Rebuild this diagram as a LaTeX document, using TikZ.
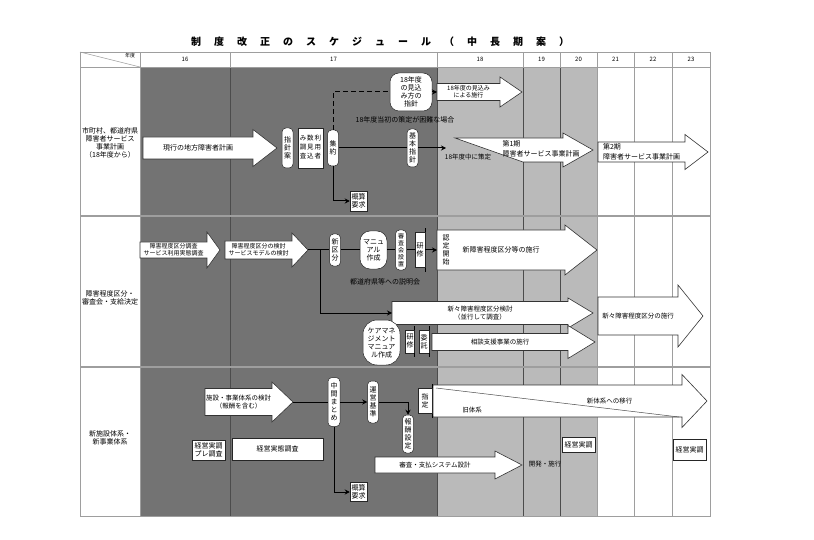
\documentclass[tikz,border=0pt]{standalone}
\usepackage{fontspec}
\setmainfont{Noto Sans CJK JP}
\usetikzlibrary{arrows.meta}

\definecolor{darkbg}{gray}{0.45}
\definecolor{lightbg}{gray}{0.73}
\definecolor{rulegray}{gray}{0.62}

\newcommand{\widespace}{\spaceskip=13pt plus 0pt minus 0pt\relax}

% block arrow: [text options]{name}{tail x}{tip x}{y}{body half}{head half}{head length}{text}
\newcommand{\blockarrow}[9][]{%
  \draw[blockarrow] (#3,#5-#6) -- ({#4-#8},#5-#6) -- ({#4-#8},#5-#7) -- (#4,#5)
    -- ({#4-#8},#5+#7) -- ({#4-#8},#5+#6) -- (#3,#5+#6) -- cycle;
  \coordinate (#2-tail) at (#3,#5);
  \coordinate (#2-tip) at (#4,#5);
  \node[arrowtext,#1] (#2) at ({(#3+#4-#8)/2},#5) {#9};}

\begin{document}
\begin{tikzpicture}[x=1pt, y=-1pt,
    font=\fontsize{7}{8}\selectfont,
    base/.style={draw=black!85, fill=white, line width=0.5pt, inner sep=0.5pt, align=center},
    vbox/.style={base, rounded corners=4pt, minimum width=11pt},
    sqbox/.style={base},
    roundbox/.style={base, rounded corners=9pt},
    tickline/.style={draw=black, line width=0.6pt},
    tickbox/.style={base, append after command={(\tikzlastnode.north east) edge[tickline] ([yshift=4pt]\tikzlastnode.north east)
        (\tikzlastnode.south east) edge[tickline] ([yshift=-4pt]\tikzlastnode.south east)}},
    note/.style={inner sep=0pt, align=center},
    arrowtext/.style={inner sep=0pt, align=center, font=\fontsize{6.5}{7.5}\selectfont},
    blockarrow/.style={draw=black!80, fill=white, line width=0.6pt},
    conn/.style={draw=black, line width=1pt},
    arrowline/.style={conn, -{Stealth[length=5pt, width=5pt]}},
    dasharrow/.style={arrowline, dash pattern=on 5pt off 3pt},
    rowline/.style={draw=rulegray, line width=1.4pt},
    colline/.style={draw=black!70, line width=0.6pt},
    thinline/.style={draw=rulegray, line width=0.5pt},
    cell/.style={draw=rulegray, line width=0.5pt}
]
\useasboundingbox (0,0) rectangle (814,540);

% title
\node[font=\fontsize{10}{12}\selectfont\bfseries] (title) at (380,42)
    {\widespace 制 度 改 正 の ス ケ ジ ュ ー ル （ 中 長 期 案 ）};

% table background
\fill[darkbg] (140,67) rectangle (437,516);
\fill[lightbg] (437,67) rectangle (597,516);
\foreach \xv in {140,597,634,672} \draw[thinline] (\xv,67) -- (\xv,516);
\foreach \xv in {230,437,523,560} \draw[colline] (\xv,67) -- (\xv,516);
\foreach \yh in {216,367} \draw[rowline] (80,\yh) -- (710,\yh);
\draw[cell] (80,52) rectangle (710,516);

% header
\draw[cell] (80,52) rectangle (140,67);
\draw[cell] (80,52) -- (140,67);
\node[font=\fontsize{5}{6}\selectfont] (nendo) at (130,56) {年度};
\foreach \xa/\xb/\yr in {140/230/16, 230/437/17, 437/523/18, 523/560/19, 560/597/20, 597/634/21, 634/672/22, 672/710/23} {
  \draw[cell] (\xa,52) rectangle (\xb,67);
  \node[font=\fontsize{6}{7}\selectfont] (y\yr) at ({(\xa+\xb)/2},59.5) {\yr};
}

% row 1
\node[note] (row1) at (110,143) {市町村、都道府県\\障害者サービス\\事業計画\\（18年度から）};
\blockarrow[font=\fontsize{7}{8}\selectfont]{genkou}{143}{277}{148}{11}{18.5}{24}{現行の地方障害者計画}
\node[vbox, minimum height=40pt] (shishinan) at (287.5,148) {指\\針\\案};
\node[sqbox, minimum width=25pt, minimum height=40pt, font=\fontsize{6.5}{9}\selectfont] (mikomichousa) at (310.5,148)
    {\begin{tabular}{@{}c@{\hspace{1pt}}c@{\hspace{1pt}}c@{}}み&数&利\\調&見&用\\査&込&者\end{tabular}};
\node[vbox, minimum height=36pt] (shuyaku) at (333,148) {集\\約};
\node[vbox, minimum height=38pt] (kihon) at (412.5,148) {基\\本\\指\\針};
\node[roundbox, minimum width=42pt, minimum height=38pt] (mikomihou) at (411,92) {18年度\\の見込\\み方の\\指針};
\node[sqbox, minimum width=17pt, minimum height=20pt] (gaisan1) at (358.5,201) {概算\\要求};
\node[note] (konnan) at (405,120) {18年度当初の策定が困難な場合};
\blockarrow[font=\fontsize{6}{7}\selectfont]{sekou18}{437}{522}{92}{8.5}{15}{22}{18年度の見込み\\による施行}
\draw[blockarrow] (455,138) -- (563,138) -- (563,133) -- (593,150) -- (563,167) -- (563,162) -- (523,162) -- cycle;
\node[arrowtext, align=left, font=\fontsize{7}{9.5}\selectfont] (kei1) at (541,149) {第1期\\障害者サービス事業計画};
\node[note, font=\fontsize{6.5}{7.5}\selectfont] (sakutei) at (468,157) {18年度中に策定};
\blockarrow[align=left, font=\fontsize{7}{9.5}\selectfont]{kei2}{598}{708}{152}{10}{17.5}{23}{第2期\\障害者サービス事業計画}
\coordinate (kei1-in) at (446,148);

\draw[conn] (shuyaku) -- (kihon);
\draw[arrowline] (kihon) -- (kei1-in);
\draw[conn, dash pattern=on 5pt off 3pt] (shuyaku.north) |- (mikomihou.west);
\draw[dasharrow] (mikomihou.east) -- (sekou18-tail);
\draw[arrowline] (shuyaku.south) |- (gaisan1.west);

% row 2
\node[note] (row2) at (110,298) {障害程度区分・\\審査会・支給決定};
\blockarrow[font=\fontsize{6}{7}\selectfont]{chousa}{140}{220}{250}{8}{18}{13}{障害程度区分調査\\サービス利用実態調査}
\blockarrow[font=\fontsize{6}{7}\selectfont]{kentou}{225}{308}{250}{9}{17}{16}{障害程度区分の検討\\サービスモデルの検討}
\node[vbox, minimum height=32pt] (shinku) at (335,250) {新\\区\\分};
\node[roundbox, minimum width=27pt, minimum height=38pt, rounded corners=10pt] (manual) at (373.5,250) {マニュ\\アル\\作成};
\node[vbox, minimum height=40pt, font=\fontsize{6}{7}\selectfont] (shinsakai) at (401,250) {審\\査\\会\\設\\置};
\node[tickbox, minimum width=10pt, minimum height=35pt] (kenshu1) at (420,250) {研\\修};
\blockarrow[font=\fontsize{7}{8}\selectfont]{shinkubun}{437}{597}{250}{20}{25}{32}{新障害程度区分等の施行}
\node[note] (nintei) at (446,250) {認\\定\\開\\始};
\node[note] (setsumei) at (385,282) {都道府県等への説明会};
\coordinate (bunki) at (320,250);
\blockarrow{shinshin}{392}{593}{313}{11.5}{15}{25}{新々障害程度区分検討\\（並行して調査）}
\blockarrow{shinshinsekou}{598}{703}{316}{19}{31}{25}{新々障害程度区分の施行}
\blockarrow{soudan}{432}{595}{342}{8.5}{16.5}{27}{相談支援事業の施行}
\node[roundbox, minimum width=37pt, minimum height=45pt, rounded corners=14pt] (caremane) at (381.5,342.5) {ケアマネ\\ジメント\\マニュア\\ル作成};
\node[tickbox, minimum width=9pt, minimum height=23pt] (kenshu2) at (410,341.5) {研\\修};
\node[tickbox, minimum width=10pt, minimum height=23pt] (itaku) at (424,341.5) {委\\託};

\draw[conn] (kentou-tip) -- (shinku);
\draw[conn] (shinku) -- (manual);
\draw[conn] (manual) -- (shinsakai);
\draw[conn] (shinsakai) -- (kenshu1);
\draw[arrowline] (kenshu1) -- (shinkubun-tail);
\draw[arrowline] (bunki) |- (shinshin-tail);

% row 3
\node[note] (row3) at (110,438) {新施設体系・\\新事業体系};
\blockarrow{shisetsu}{205}{293}{402}{13.5}{20}{21}{施設・事業体系の検討\\（報酬を含む）}
\blockarrow[xshift=52pt]{ikou}{433}{707}{401}{16}{26.5}{25}{新体系への移行}
\draw[thinline, draw=black!70] (436,388) -- (679,417);
\node[note, font=\fontsize{6.5}{7.5}\selectfont] (kyuu) at (472,410) {旧体系};
\node[vbox, minimum width=12pt, minimum height=49pt] (chukan) at (334,402) {中\\間\\ま\\と\\め};
\node[vbox, minimum height=42pt] (unei) at (373,402) {運\\営\\基\\準};
\node[vbox, minimum height=38pt] (housyu) at (408,434) {報\\酬\\設\\定};
\node[tickbox, minimum width=14pt, minimum height=25pt] (shitei) at (425,401) {指\\定};
\node[sqbox, minimum width=17pt, minimum height=19pt] (gaisan2) at (358.5,492) {概算\\要求};
\node[sqbox, minimum width=33pt, minimum height=20pt] (pre) at (208.5,450) {経営実調\\プレ調査};
\node[sqbox, minimum width=91pt, minimum height=22pt] (jittai) at (277.5,449) {経営実態調査};
\blockarrow{system}{375}{522}{465}{8}{14}{27}{審査・支払システム設計}
\node[note, font=\fontsize{6.5}{7.5}\selectfont] (kaihatsu) at (545,464) {開発・施行};
\node[sqbox, minimum width=33pt, minimum height=15pt] (jicchou1) at (578.5,445) {経営実調};
\node[sqbox, minimum width=33pt, minimum height=21pt] (jicchou2) at (689.5,449.5) {経営実調};

\draw[conn] (shisetsu-tip) -- (chukan);
\draw[arrowline] (chukan) -- (unei);
\draw[arrowline] (unei.east) -| (housyu.north);
\draw[arrowline] (chukan.south) |- (gaisan2.west);
\end{tikzpicture}
\end{document}
